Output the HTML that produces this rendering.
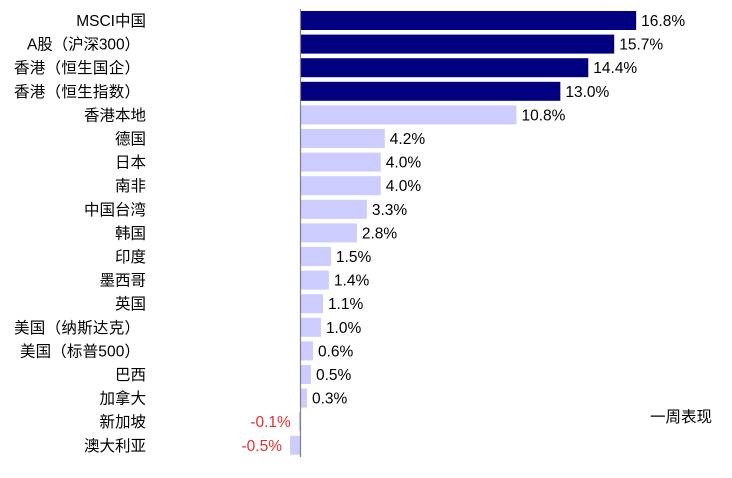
<!DOCTYPE html>
<html><head><meta charset="utf-8"><style>
body{margin:0;background:#fff;}
svg text{font-family:"Liberation Sans","WenQuanYi Zen Hei",sans-serif;font-size:15.5px;}
</style></head><body>
<svg width="732" height="473" xmlns="http://www.w3.org/2000/svg">
<g id="g"></g>
<line x1="300.5" y1="9" x2="300.5" y2="457" stroke="#808080" stroke-width="1.2"/>
<text x="712" y="422" text-anchor="end" fill="#000">一周表现</text>
</svg>
<script>
var d=[["MSCI中国",16.8],["A股（沪深300）",15.7,113],["香港（恒生国企）",14.4,126],["香港（恒生指数）",13.0,126],["香港本地",10.8],["德国",4.2],["日本",4.0],["南非",4.0],["中国台湾",3.3],["韩国",2.8],["印度",1.5],["墨西哥",1.4],["英国",1.1],["美国（纳斯达克）",1.0,126],["美国（标普500）",0.6,120],["巴西",0.5],["加拿大",0.3],["新加坡",-0.1],["澳大利亚",-0.5]];
var g=document.getElementById('g'),s='';
d.forEach(function(r,i){var y=11+i*23.6,v=r[1],w=Math.abs(v)*19.95,c=i<4?'#000080':'#ccccff';
var x=v>=0?301:301-w*1.1;if(v<0)w=w*1.1;
s+='<rect x="'+x+'" y="'+y+'" width="'+w+'" height="19" fill="'+c+'"/>';
if(r[2])s+='<text x="'+(140-r[2])+'" y="'+(y+15)+'" textLength="'+r[2]+'" lengthAdjust="spacing">'+r[0]+'</text>';
else s+='<text x="146" y="'+(y+15)+'" text-anchor="end">'+r[0]+'</text>';
if(v>=0)s+='<text x="'+(x+w+5)+'" y="'+(y+15)+'">'+v.toFixed(1)+'%</text>';
else s+='<text x="'+(x-8)+'" y="'+(y+15)+'" text-anchor="end" fill="#e03030">'+v.toFixed(1)+'%</text>';});
g.innerHTML=s;
</script>
</body></html>
